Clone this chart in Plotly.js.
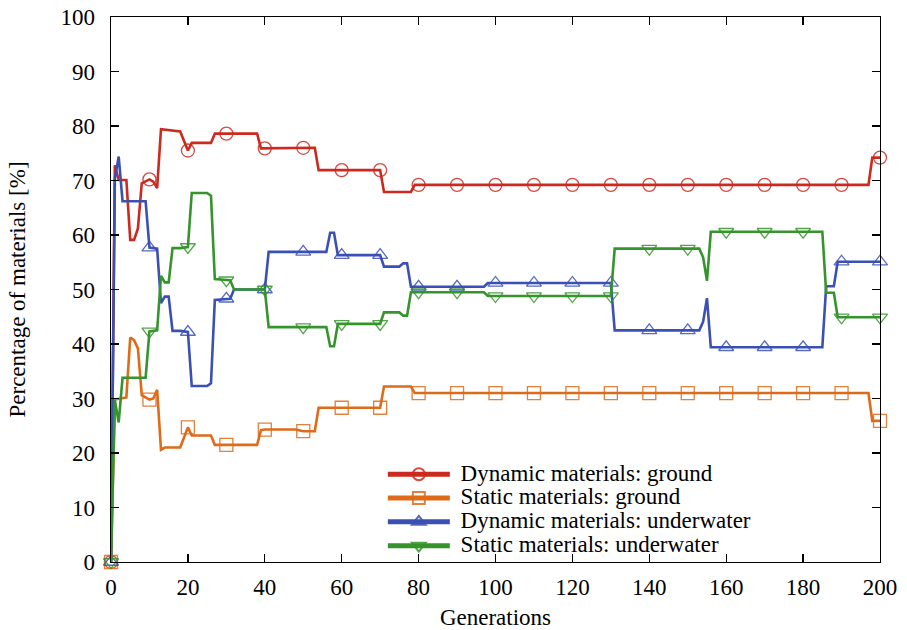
<!DOCTYPE html>
<html>
<head>
<meta charset="utf-8">
<script src="https://cdn.plot.ly/plotly-3.0.1.min.js"></script>
<style>html,body{margin:0;padding:0;background:#fff;}#chart{width:907px;height:630px;}</style>
</head>
<body>
<div id="chart"></div>
<script>
// Generations (x) and percentages (y)
var genDynGround = [0,1,2,4,5,6,7,8,10,11,12,13,18,20,21,26,27,30,38,39,40,50,53,54,60,70,71,78,79,80,90,100,110,120,130,140,150,160,170,180,190,197,198,200];
var dynGround    = [0,72.8,70.1,70.1,59.1,59.1,61.2,69.5,70.2,69.8,68.6,79.4,79.0,75.5,76.9,76.9,78.6,78.6,78.6,75.9,75.9,76.0,76.0,71.9,71.9,71.9,67.9,67.9,69.2,69.2,69.2,69.2,69.2,69.2,69.2,69.2,69.2,69.2,69.2,69.2,69.2,69.2,74.2,74.2];

var genStatGround = [0,1,4,5,6,7,8,10,11,12,13,14,18,20,21,26,27,30,38,39,40,48,50,53,54,60,70,71,78,79,80,90,100,110,120,130,140,150,160,170,180,190,197,198,200];
var statGround    = [0,29.8,30.2,41.2,40.7,39.2,30.6,29.8,30.0,31.6,20.6,21.0,21.0,24.7,23.2,23.2,21.5,21.5,21.5,24.2,24.3,24.3,24.0,24.0,28.3,28.3,28.3,32.2,32.2,31.0,31.0,31.0,31.0,31.0,31.0,31.0,31.0,31.0,31.0,31.0,31.0,31.0,31.0,25.9,25.9];

var genUnderwater = [0,1,2,3,9,10,12,13,14,15,16,18,20,21,25,26,27,30,31,32,40,41,50,56,57,58,59,60,70,71,75,76,77,78,80,90,97,98,100,110,120,130,131,140,150,153,154,155,156,160,170,180,185,186,188,189,190,200];
var dynUnderwater  = [0,70.3,74.4,66.2,66.2,57.7,57.5,47.5,48.7,48.7,42.4,42.4,42.2,32.3,32.3,32.8,48.1,48.3,48.3,50.0,50.0,56.9,56.9,56.9,60.4,60.4,56.3,56.3,56.3,54.2,54.2,54.8,54.8,50.5,50.5,50.5,50.5,51.2,51.2,51.2,51.2,51.2,42.5,42.5,42.5,42.5,44.1,48.4,39.4,39.4,39.4,39.4,39.4,50.6,50.6,55.1,55.1,55.1];
var statUnderwater = [0,29.7,25.6,33.8,33.8,42.3,42.5,52.5,51.3,51.3,57.6,57.6,57.8,67.7,67.7,67.2,51.9,51.7,51.7,50.0,50.0,43.1,43.1,43.1,39.6,39.6,43.7,43.7,43.7,45.8,45.8,45.2,45.2,49.5,49.5,49.5,49.5,48.8,48.8,48.8,48.8,48.8,57.5,57.5,57.5,57.5,55.9,51.6,60.6,60.6,60.6,60.6,60.6,49.4,49.4,44.9,44.9,44.9];

var seriesNames = ["Dynamic materials: ground","Static materials: ground","Dynamic materials: underwater","Static materials: underwater"];
var xTickVals = [0,20,40,60,80,100,120,140,160,180,200];
var yTickVals = [0,10,20,30,40,50,60,70,80,90,100];

var FONT = "Liberation Serif, Times New Roman, serif";
function mk(x, y, name, color, symbol) {
  return {
    x: x, y: y, name: '<span style="font-size:23px">\u00a0' + name + '</span>',
    type: 'scatter', mode: 'lines+markers',
    line: {color: color, width: 2.6},
    marker: {symbol: symbol, color: color, opacity: 0.85,
             size: x.map(function(g){ return g % 10 === 0 ? 13 : 0; }),
             line: {color: color, width: 1.3}},
    cliponaxis: false
  };
}
var data = [
  mk(genDynGround, dynGround, seriesNames[0], '#cc2a1f', 'circle-open'),
  mk(genStatGround, statGround, seriesNames[1], '#de6b1a', 'square-open'),
  mk(genUnderwater, dynUnderwater, seriesNames[2], '#3a50b4', 'triangle-up-open'),
  mk(genUnderwater, statUnderwater, seriesNames[3], '#35942c', 'triangle-down-open')
];
var axisCommon = {
  showgrid: false, zeroline: false, showline: true, mirror: 'ticks',
  linecolor: '#000', linewidth: 1.3, ticks: 'inside', ticklen: 8, tickwidth: 1.3, tickcolor: '#000',
  tickfont: {family: FONT, size: 23, color: '#000'}
};
var layout = {
  width: 907, height: 630,
  margin: {l: 111, r: 27, t: 17, b: 68},
  paper_bgcolor: '#fff', plot_bgcolor: '#fff',
  font: {family: FONT, color: '#000'},
  showlegend: true,
  legend: {x: 0.3535, xanchor: 'left', y: 0.192, yanchor: 'top', bgcolor: 'rgba(0,0,0,0)',
           font: {family: FONT, size: 16, color: '#000'}, itemsizing: 'constant', itemwidth: 62, tracegroupgap: 0},
  xaxis: Object.assign({}, axisCommon, {range: [0, 200], tickvals: xTickVals, ticktext: xTickVals.map(String),
           ticklabelstandoff: 4,
           title: {text: 'Generations', font: {family: FONT, size: 23, color: '#000'}, standoff: 17}}),
  yaxis: Object.assign({}, axisCommon, {range: [0, 100], tickvals: yTickVals, ticktext: yTickVals.map(String),
           ticklabelstandoff: 10,
           title: {text: 'Percentage of materials [%]', font: {family: FONT, size: 23, color: '#000'}, standoff: 28}})
};
Plotly.newPlot('chart', data, layout, {displayModeBar: false, staticPlot: true});
</script>
</body>
</html>
